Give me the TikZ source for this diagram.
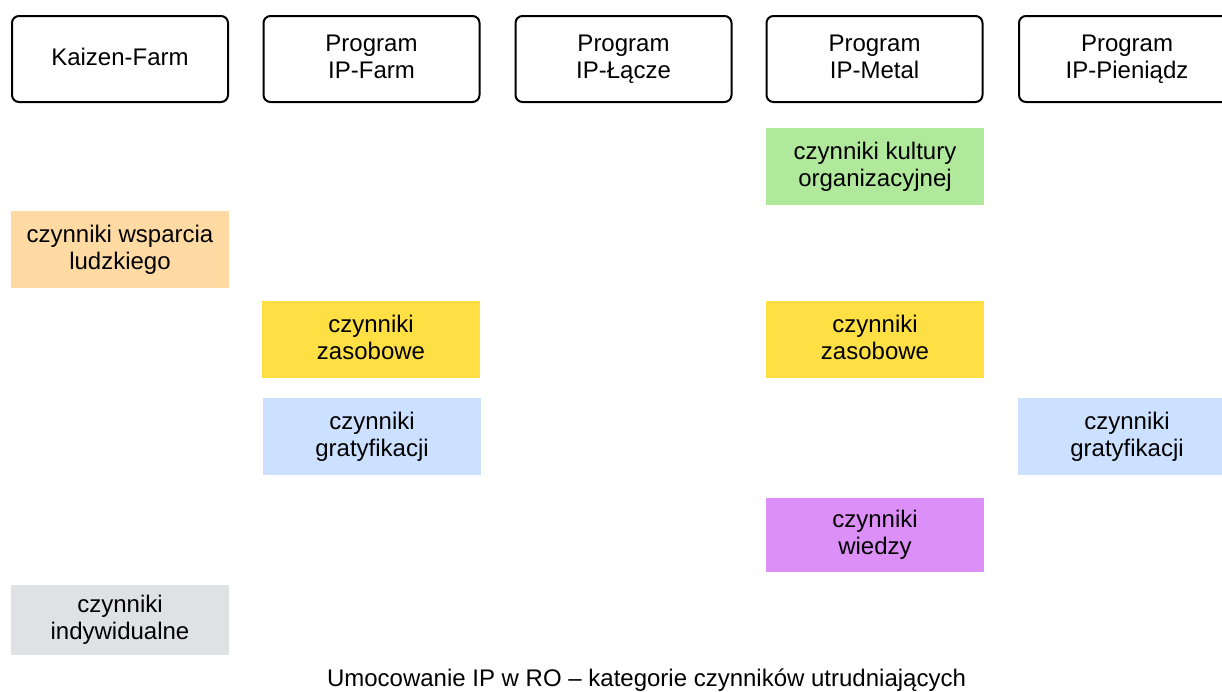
\documentclass[tikz,border=0pt]{standalone}
\usepackage{fontspec}
\setmainfont{Liberation Sans}
\usepackage{xcolor}
\usetikzlibrary{positioning}

\definecolor{kulturaGreen}{HTML}{B0E89C}
\definecolor{wsparciePeach}{HTML}{FFDBA3}
\definecolor{zasobyYellow}{HTML}{FFE044}
\definecolor{gratyfBlue}{HTML}{CCE0FF}
\definecolor{wiedzaViolet}{HTML}{DD8FF8}
\definecolor{indywGrey}{HTML}{DFE1E5}

\begin{document}
\begin{tikzpicture}[x=1pt, y=-1pt,
    every node/.style={font=\fontsize{24}{27}\selectfont, text=black, text depth=5pt},
    program/.style={draw, line width=2pt, rounded corners=7pt,
        minimum width=216pt, minimum height=86pt, align=center},
    factor/.style={fill=#1, minimum width=218pt, minimum height=77pt,
        inner sep=0pt, align=center}]
    \useasboundingbox (0,0) rectangle (1222,691);

    % Programs (top row)
    \node[program] (kaizen) at (120,59) {Kaizen-Farm};
    \node[program] (ipfarm) at (371.5,59) {Program\\IP-Farm};
    \node[program] (iplacze) at (623.5,59) {Program\\IP-Łącze};
    \node[program] (ipmetal) at (874.5,59) {Program\\IP-Metal};
    \node[program] (ippieniadz) at (1127,59) {Program\\IP-Pieniądz};

    % Kaizen-Farm
    \node[factor=wsparciePeach] (kfWsparcie) at (120,249.5) {czynniki wsparcia\\ludzkiego};
    \node[factor=indywGrey, minimum height=70pt] (kfIndyw) at (120,620) {czynniki\\indywidualne};

    % IP-Farm
    \node[factor=zasobyYellow] (ifZasoby) at (371,339.5) {czynniki\\zasobowe};
    \node[factor=gratyfBlue] (ifGratyf) at (372,436.5) {czynniki\\gratyfikacji};

    % IP-Metal
    \node[factor=kulturaGreen] (imKultura) at (875,166.5) {czynniki kultury\\organizacyjnej};
    \node[factor=zasobyYellow] (imZasoby) at (875,339.5) {czynniki\\zasobowe};
    \node[factor=wiedzaViolet, minimum height=74pt] (imWiedza) at (875,535) {czynniki\\wiedzy};

    % IP-Pieniadz
    \node[factor=gratyfBlue] (ipGratyf) at (1127,436.5) {czynniki\\gratyfikacji};

    % Caption
    \node[anchor=base] (caption) at (646.5,686) {Umocowanie IP w RO – kategorie czynników utrudniających};
\end{tikzpicture}
\end{document}
